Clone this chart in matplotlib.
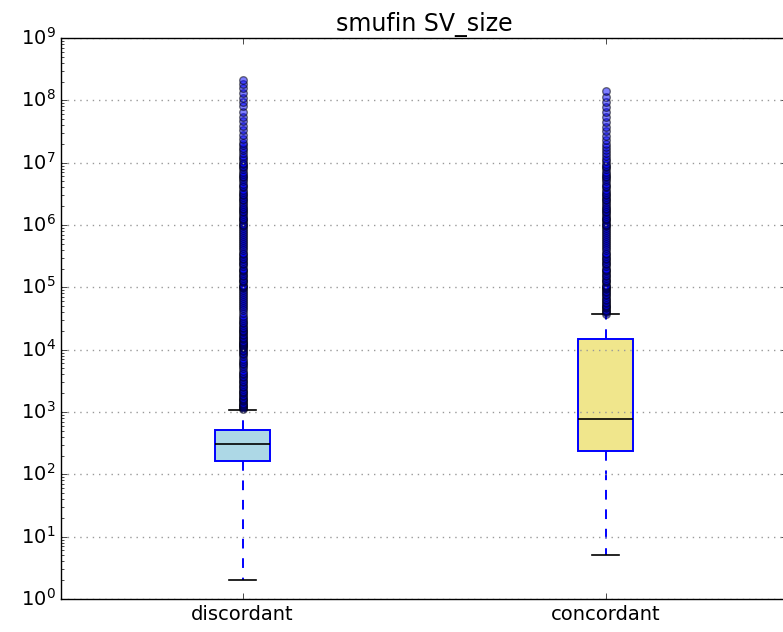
import matplotlib
matplotlib.use("Agg")
import matplotlib.pyplot as plt

plt.style.use('classic')
plt.rcParams['font.family'] = ['DejaVu Sans']
plt.rcParams['font.size'] = 14

categories = ['discordant', 'concordant']
box_colors = ['lightblue', 'khaki']

q1 = [163, 237]
median = [306, 770]
q3 = [515, 14800]
whisker_low = [2, 5]
whisker_high = [1075, 37000]

disc_fliers = [
    1.1e3, 1.15e3, 1.2e3, 1.25e3, 1.3e3, 1.35e3, 1.4e3, 1.5e3, 1.55e3, 1.6e3, 1.7e3, 1.8e3,
    1.9e3, 2.0e3, 2.1e3, 2.2e3, 2.35e3, 2.5e3, 2.65e3, 2.8e3, 3.0e3, 3.2e3, 3.4e3, 3.6e3,
    3.8e3, 4.0e3, 4.3e3, 4.6e3, 5.0e3, 5.4e3, 5.8e3, 6.2e3, 6.7e3, 7.2e3, 7.8e3, 8.4e3,
    9.0e3, 9.6e3,
    1.0e4, 1.05e4, 1.1e4, 1.15e4, 1.2e4, 1.25e4, 1.3e4, 1.35e4, 1.4e4, 1.5e4, 1.55e4, 1.6e4,
    1.7e4, 1.8e4, 1.9e4, 2.0e4, 2.1e4, 2.2e4, 2.35e4, 2.5e4, 2.65e4, 2.8e4, 3.0e4, 3.2e4,
    3.5e4, 3.9e4, 4.3e4, 4.6e4, 5.0e4, 5.4e4, 5.8e4, 6.2e4, 6.7e4, 7.2e4, 7.8e4, 8.4e4,
    9.0e4, 9.6e4,
    1.0e5, 1.05e5, 1.1e5, 1.2e5, 1.25e5, 1.3e5, 1.4e5, 1.5e5, 1.6e5, 1.7e5, 1.8e5, 1.9e5,
    2.0e5, 2.2e5, 2.35e5, 2.5e5, 2.65e5, 2.8e5, 3.0e5, 3.2e5, 3.4e5, 3.6e5, 4.0e5, 4.3e5,
    4.6e5, 5.0e5, 5.4e5, 5.8e5, 6.2e5, 6.7e5, 7.2e5, 7.8e5, 8.4e5, 9.0e5, 9.6e5,
    1.0e6, 1.05e6, 1.1e6, 1.2e6, 1.25e6, 1.3e6, 1.4e6, 1.5e6, 1.6e6, 1.7e6, 1.8e6, 1.9e6,
    2.0e6, 2.2e6, 2.35e6, 2.5e6, 2.65e6, 2.8e6, 3.0e6, 3.2e6, 3.4e6, 3.6e6, 4.0e6, 4.3e6,
    4.6e6, 5.0e6, 5.4e6, 5.8e6, 6.2e6, 6.7e6, 7.2e6, 7.8e6, 8.4e6, 9.0e6, 9.6e6,
    1.0e7, 1.1e7, 1.2e7, 1.3e7, 1.45e7, 1.6e7, 1.75e7, 1.9e7, 2.1e7, 2.4e7, 2.8e7, 3.3e7,
    3.9e7, 4.6e7, 5.5e7, 6.6e7, 8.0e7, 9.5e7,
    1.1e8, 1.3e8, 1.55e8, 1.8e8, 2.1e8,
]

conc_fliers = [
    3.8e4, 4.0e4, 4.2e4, 4.4e4, 4.6e4, 4.8e4, 5.0e4, 5.3e4, 5.6e4, 5.9e4, 6.2e4, 6.6e4,
    7.0e4, 7.4e4, 7.8e4, 8.3e4, 8.8e4, 9.3e4, 9.8e4,
    1.0e5, 1.05e5, 1.1e5, 1.2e5, 1.25e5, 1.3e5, 1.4e5, 1.5e5, 1.6e5, 1.7e5, 1.8e5, 1.9e5,
    2.0e5, 2.2e5, 2.35e5, 2.5e5, 2.65e5, 2.8e5, 3.0e5, 3.2e5, 3.4e5, 3.6e5, 4.0e5, 4.3e5,
    4.6e5, 5.0e5, 5.4e5, 5.8e5, 6.2e5, 6.7e5, 7.2e5, 7.8e5, 8.4e5, 9.0e5, 9.6e5,
    1.0e6, 1.05e6, 1.1e6, 1.2e6, 1.25e6, 1.3e6, 1.4e6, 1.5e6, 1.6e6, 1.7e6, 1.8e6, 1.9e6,
    2.0e6, 2.2e6, 2.35e6, 2.5e6, 2.65e6, 2.8e6, 3.0e6, 3.2e6, 3.4e6, 3.6e6, 4.0e6, 4.3e6,
    4.6e6, 5.0e6, 5.4e6, 5.8e6, 6.2e6, 6.7e6, 7.2e6, 7.8e6, 8.4e6, 9.0e6, 9.6e6,
    1.05e7, 1.15e7, 1.3e7, 1.45e7, 1.6e7, 1.8e7, 2.0e7, 2.3e7, 2.7e7, 3.2e7, 3.8e7, 4.5e7,
    5.4e7, 6.5e7, 7.8e7, 9.5e7,
    1.15e8, 1.4e8,
]
fliers = [disc_fliers, conc_fliers]

fig = plt.figure(figsize=(7.83, 6.32), dpi=100, facecolor='white')
ax = fig.add_axes([61/783, 33/632, 726/783, 561/632])
ax.set_facecolor('white')

stats = []
for i, name in enumerate(categories):
    stats.append(dict(label=name, q1=q1[i], med=median[i], q3=q3[i],
                      whislo=whisker_low[i], whishi=whisker_high[i],
                      fliers=fliers[i]))

bp = ax.bxp(stats, positions=[1, 2], widths=0.15, patch_artist=True,
            boxprops=dict(edgecolor='blue', linewidth=1.4),
            whiskerprops=dict(color='blue', linestyle=(0, (7, 7)), linewidth=1.4),
            capprops=dict(color='black', linewidth=1.2),
            medianprops=dict(color='black', linewidth=1.2),
            flierprops=dict(marker='o', markerfacecolor='blue', markeredgecolor='black',
                            markeredgewidth=1.0, markersize=5.5, alpha=0.5,
                            linestyle='none'))
for patch, c in zip(bp['boxes'], box_colors):
    patch.set_facecolor(c)

ax.set_yscale('log')
ax.set_ylim(1, 1e9)
ax.set_xlim(0.5, 2.5)
ax.yaxis.grid(True, linestyle=(0, (1, 3.5)), color='#999999', linewidth=1)
ax.set_axisbelow(False)
for sp in ax.spines.values():
    sp.set_zorder(3)
ax.set_title('smufin SV_size', fontsize=17)

fig.savefig('out.png', dpi=100, facecolor='white')
